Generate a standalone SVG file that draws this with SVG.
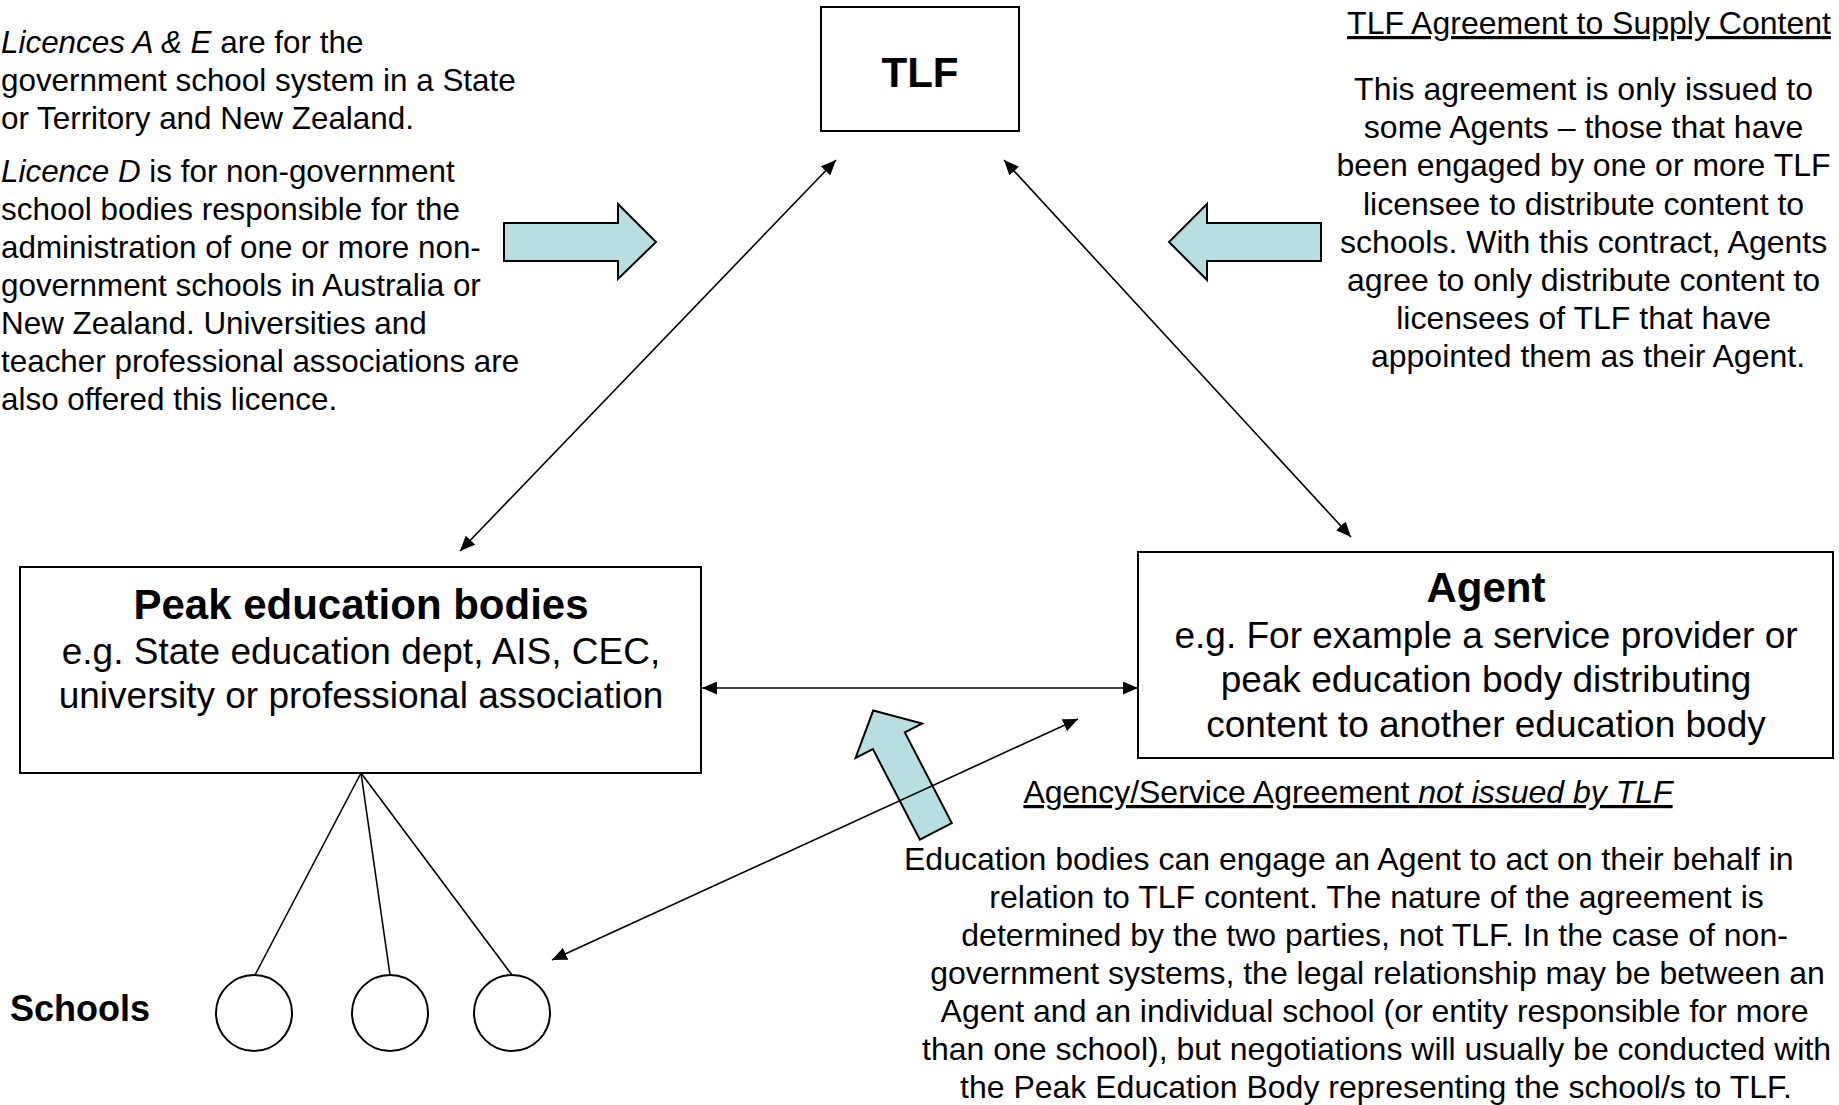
<svg xmlns="http://www.w3.org/2000/svg" width="1839" height="1105" viewBox="0 0 1839 1105">
<style>
text{font-family:"Liberation Sans",Arial,sans-serif;fill:#000}
.box{fill:#fff;stroke:#000;stroke-width:2}
.school{fill:#fff;stroke:#000;stroke-width:2}
.title{font-weight:bold;font-size:42px;text-anchor:middle}
.body{font-size:37px;text-anchor:middle}
.note{font-size:32px}
.mid{text-anchor:middle}
.conn{stroke:#000;stroke-width:1.6;fill:none}
.arr{marker-start:url(#ah);marker-end:url(#ah)}
.blue{fill:#b7dee1;stroke:#000;stroke-width:2}
</style>
<defs>
<marker id="ah" markerUnits="userSpaceOnUse" markerWidth="16" markerHeight="13" refX="15" refY="6.5" orient="auto-start-reverse">
<path d="M0,0 L15,6.5 L0,13 z" fill="#000"/>
</marker>
</defs>
<rect width="1839" height="1105" fill="#fff"/>

<g id="block-arrows">
<polygon class="blue" points="504,223 618,223 618,204 656,242 618,279 618,261 504,261"/>
<polygon class="blue" points="1321,223 1207,223 1207,204 1169,242 1207,280 1207,261 1321,261"/>
<polygon class="blue" transform="translate(935.8,831.3) rotate(-117.4)" points="0,-18 102,-18 102,-37.5 136,0 102,37.5 102,18 0,18"/>
</g>

<g id="tlf">
<rect class="box" x="821" y="7" width="198" height="124"/>
<text class="title" x="920" y="87">TLF</text>
</g>

<g id="peak">
<rect class="box" x="20" y="567" width="681" height="206"/>
<text class="title" x="361" y="619">Peak education bodies</text>
<text class="body" x="361" y="664">e.g. State education dept, AIS, CEC,</text>
<text class="body" x="361" y="708">university or professional association</text>
</g>

<g id="agent">
<rect class="box" x="1138" y="552" width="695" height="206"/>
<text class="title" x="1486" y="602">Agent</text>
<text class="body" x="1486" y="648">e.g. For example a service provider or</text>
<text class="body" x="1486" y="692">peak education body distributing</text>
<text class="body" x="1486" y="737">content to another education body</text>
</g>

<g id="school1"><circle class="school" cx="254" cy="1013" r="38"/></g>
<g id="school2"><circle class="school" cx="390" cy="1013" r="38"/></g>
<g id="school3"><circle class="school" cx="512" cy="1013" r="38"/></g>
<g id="schools-label"><text x="10" y="1021" style="font-weight:bold;font-size:36px">Schools</text></g>

<g id="connectors">
<line class="conn arr" x1="836" y1="160" x2="460" y2="551"/>
<line class="conn arr" x1="1004" y1="160" x2="1351" y2="537"/>
<line class="conn arr" x1="702" y1="688" x2="1138" y2="688"/>
<line class="conn arr" x1="1078" y1="719" x2="552" y2="960"/>
<line class="conn" x1="361" y1="773" x2="255" y2="975"/>
<line class="conn" x1="361" y1="773" x2="390" y2="975"/>
<line class="conn" x1="361" y1="773" x2="512" y2="975"/>
</g>

<g id="licence-note">
<text style="font-size:31.4px">
<tspan x="1" y="53"><tspan font-style="italic">Licences A &amp; E</tspan> are for the</tspan>
<tspan x="1" y="91">government school system in a State</tspan>
<tspan x="1" y="129">or Territory and New Zealand.</tspan>
<tspan x="1" y="182"><tspan font-style="italic">Licence D</tspan> is for non-government</tspan>
<tspan x="1" y="220">school bodies responsible for the</tspan>
<tspan x="1" y="258">administration of one or more non-</tspan>
<tspan x="1" y="296">government schools in Australia or</tspan>
<tspan x="1" y="334">New Zealand. Universities and</tspan>
<tspan x="1" y="372">teacher professional associations are</tspan>
<tspan x="1" y="410">also offered this licence.</tspan>
</text>
</g>

<g id="tlf-agreement-note">
<text class="note mid" x="1589" y="34" text-decoration="underline">TLF Agreement to Supply Content</text>
<text class="note mid">
<tspan x="1588" y="100">This agreement is only issued to</tspan>
<tspan x="1588" y="138">some Agents – those that have</tspan>
<tspan x="1588" y="176">been engaged by one or more TLF</tspan>
<tspan x="1588" y="215">licensee to distribute content to</tspan>
<tspan x="1588" y="253">schools. With this contract, Agents</tspan>
<tspan x="1588" y="291">agree to only distribute content to</tspan>
<tspan x="1588" y="329">licensees of TLF that have</tspan>
<tspan x="1588" y="367">appointed them as their Agent.</tspan>
</text>
</g>

<g id="agency-note">
<text class="note mid" x="1348" y="803" text-decoration="underline">Agency/Service Agreement <tspan font-style="italic">not issued by TLF</tspan></text>
<text class="note" x="904" y="870">Education bodies can engage an Agent to act on their behalf in</text>
<text class="note mid">
<tspan x="1381" y="908">relation to TLF content. The nature of the agreement is</tspan>
<tspan x="1379" y="946">determined by the two parties, not TLF. In the case of non-</tspan>
<tspan x="1382" y="984">government systems, the legal relationship may be between an</tspan>
<tspan x="1379" y="1022">Agent and an individual school (or entity responsible for more</tspan>
<tspan x="1381" y="1060">than one school), but negotiations will usually be conducted with</tspan>
<tspan x="1376" y="1098">the Peak Education Body representing the school/s to TLF.</tspan>
</text>
</g>
</svg>
